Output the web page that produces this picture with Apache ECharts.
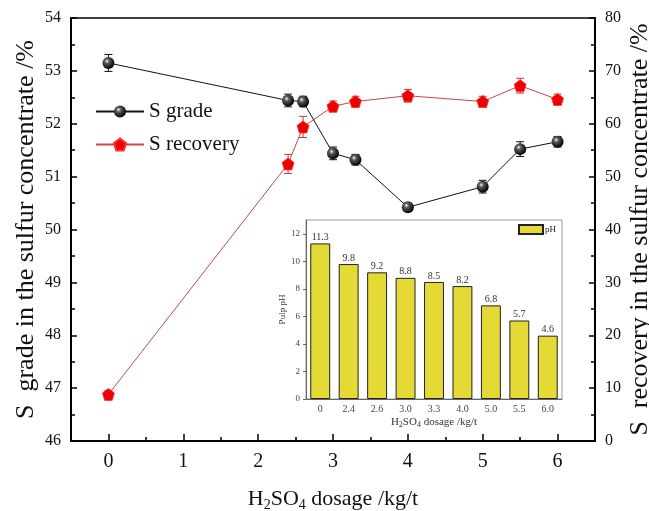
<!DOCTYPE html>
<html>
<head>
<meta charset="utf-8">
<script src="https://cdn.jsdelivr.net/npm/echarts@6/dist/echarts.min.js"></script>
<style>html,body{margin:0;padding:0;background:#fff}#c{width:649px;height:511px}</style>
</head>
<body>
<div id="c"></div>
<script>
// ---- data ----
var dosage = [0, 2.4, 2.6, 3.0, 3.3, 4.0, 5.0, 5.5, 6.0];
var grade = [53.15, 52.44, 52.42, 51.44, 51.32, 50.42, 50.81, 51.52, 51.66];
var gradeErr = [0.16, 0.12, 0.1, 0.12, 0.1, 0.08, 0.12, 0.14, 0.1];
var recovery = [8.8, 52.4, 59.4, 63.3, 64.2, 65.3, 64.2, 67.2, 64.6];
var recoveryErr = [0.8, 1.8, 2.0, 1.0, 1.0, 1.2, 1.0, 1.4, 1.0];
var xMajorTicks = [0, 1, 2, 3, 4, 5, 6];
var xMinorTicks = [0.5, 1.5, 2.5, 3.5, 4.5, 5.5];
var pHCategories = ['0', '2.4', '2.6', '3.0', '3.3', '4.0', '5.0', '5.5', '6.0'];
var pH = [11.3, 9.8, 9.2, 8.8, 8.5, 8.2, 6.8, 5.7, 4.6];

var FONT = "'Times New Roman','Liberation Serif',serif";
var chart = echarts.init(document.getElementById('c'), null, {renderer: 'canvas'});

function pairs(xs, ys) { return xs.map(function (x, i) { return [x, ys[i]]; }); }
function errData(xs, ys, es) { return xs.map(function (x, i) { return [x, ys[i] - es[i], ys[i] + es[i]]; }); }
function errRender(color) {
  return function (params, api) {
    var lo = api.coord([api.value(0), api.value(1)]);
    var hi = api.coord([api.value(0), api.value(2)]);
    var w = 4;
    var st = {stroke: color, lineWidth: 1};
    return {type: 'group', children: [
      {type: 'line', shape: {x1: lo[0], y1: lo[1], x2: hi[0], y2: hi[1]}, style: st},
      {type: 'line', shape: {x1: lo[0] - w, y1: lo[1], x2: lo[0] + w, y2: lo[1]}, style: st},
      {type: 'line', shape: {x1: hi[0] - w, y1: hi[1], x2: hi[0] + w, y2: hi[1]}, style: st}
    ]};
  };
}

var sphere = {
  type: 'radial', x: 0.38, y: 0.35, r: 0.65,
  colorStops: [{offset: 0, color: '#f4f4f4'}, {offset: 0.3, color: '#5a5a5a'}, {offset: 1, color: '#000'}]
};
var pentagon = 'path://M0,-10 L9.51,-3.09 L5.88,8.09 L-5.88,8.09 L-9.51,-3.09 Z';

var option = {
  backgroundColor: '#fff',
  animation: false,
  textStyle: {fontFamily: FONT},
  grid: [
    {left: 71, right: 54, top: 18, bottom: 70, show: true, borderColor: '#000', borderWidth: 1.5, backgroundColor: 'transparent',
      containLabel: false, outerBoundsMode: 'none'},
    {left: 306, top: 220, width: 256, height: 179, show: true, borderColor: '#999', borderWidth: 1, backgroundColor: '#fff', z: 5,
      containLabel: false, outerBoundsMode: 'none'}
  ],
  legend: [
    {
      data: ['S grade', 'S recovery'], orient: 'vertical', left: 95, top: 101, padding: 0,
      itemWidth: 48, itemHeight: 15, itemGap: 12,
      textStyle: {fontFamily: FONT, fontSize: 21, color: '#111'},
      selectedMode: false
    },
    {
      data: ['pH'], left: 518, top: 224, padding: 0, itemWidth: 24, itemHeight: 9, icon: 'rect', z: 10,
      itemGap: 2,
      textStyle: {fontFamily: FONT, fontSize: 9, color: '#222', padding: [0, 0, 0, -3]},
      selectedMode: false
    }
  ],
  xAxis: [
    {
      type: 'value', gridIndex: 0, min: -0.5, max: 6.5, interval: 0.5,
      name: 'H{sub|2}SO{sub|4} dosage /kg/t', nameLocation: 'middle', nameGap: 45, nameMoveOverlap: false,
      nameTextStyle: {fontFamily: FONT, fontSize: 22, color: '#111', lineHeight: 26,
        rich: {sub: {fontFamily: FONT, fontSize: 14, lineHeight: 14, verticalAlign: 'bottom', color: '#111'}}},
      axisLine: {show: true, onZero: false, lineStyle: {color: '#000', width: 2}},
      axisTick: {show: true, inside: true, length: 7, lineStyle: {color: '#000', width: 1.5}, customValues: xMajorTicks},
      axisLabel: {show: true, fontFamily: FONT, fontSize: 20, color: '#111', margin: 11, customValues: xMajorTicks},
      splitLine: {show: false}
    },
    {
      type: 'value', gridIndex: 0, min: -0.5, max: 6.5, interval: 0.5, position: 'bottom',
      axisLine: {show: false, onZero: false},
      axisTick: {show: true, inside: true, length: 4, lineStyle: {color: '#000', width: 1.5}, customValues: xMinorTicks},
      axisLabel: {show: false},
      splitLine: {show: false}
    },
    {
      type: 'category', gridIndex: 1, data: pHCategories,
      name: 'H{sub|2}SO{sub|4} dosage /kg/t', nameLocation: 'middle', nameGap: 17,
      nameTextStyle: {fontFamily: FONT, fontSize: 11, color: '#333', lineHeight: 13,
        rich: {sub: {fontFamily: FONT, fontSize: 8, lineHeight: 8, verticalAlign: 'bottom', color: '#333'}}},
      axisLine: {show: true, onZero: false, lineStyle: {color: '#666', width: 1}},
      axisTick: {show: false},
      axisLabel: {fontFamily: FONT, fontSize: 10, color: '#444', margin: 5},
      z: 6
    }
  ],
  yAxis: [
    {
      type: 'value', gridIndex: 0, min: 46, max: 54, interval: 1, position: 'left',
      name: 'S  grade in the sulfur concentrate /%', nameLocation: 'middle', nameGap: 32, nameRotate: 90,
      nameMoveOverlap: false,
      nameTextStyle: {fontFamily: FONT, fontSize: 26, color: '#111'},
      axisLine: {show: true, onZero: false, lineStyle: {color: '#000', width: 2}},
      axisTick: {show: true, inside: true, length: 6, lineStyle: {color: '#000', width: 1.5}},
      minorTick: {show: true, splitNumber: 2, length: 4, lineStyle: {color: '#000', width: 1.5}},
      axisLabel: {fontFamily: FONT, fontSize: 16, color: '#111', margin: 10},
      splitLine: {show: false}
    },
    {
      type: 'value', gridIndex: 0, min: 0, max: 80, interval: 10, position: 'right',
      name: 'S  recovery in the sulfur concentrate /%', nameLocation: 'middle', nameGap: 32, nameRotate: 90,
      nameMoveOverlap: false,
      nameTextStyle: {fontFamily: FONT, fontSize: 26, color: '#111'},
      axisLine: {show: true, onZero: false, lineStyle: {color: '#000', width: 2}},
      axisTick: {show: true, inside: true, length: 6, lineStyle: {color: '#000', width: 1.5}},
      minorTick: {show: true, splitNumber: 2, length: 4, lineStyle: {color: '#000', width: 1.5}},
      axisLabel: {fontFamily: FONT, fontSize: 16, color: '#111', margin: 10},
      splitLine: {show: false}
    },
    {
      type: 'value', gridIndex: 1, min: 0, max: 13, interval: 2,
      name: 'Pulp pH', nameLocation: 'middle', nameGap: 16, nameRotate: 90,
      nameTextStyle: {fontFamily: FONT, fontSize: 9, color: '#333'},
      axisLine: {show: true, onZero: false, lineStyle: {color: '#666', width: 1}},
      axisTick: {show: true, length: 3, lineStyle: {color: '#666'}},
      axisLabel: {fontFamily: FONT, fontSize: 9, color: '#444', margin: 6, showMaxLabel: false},
      splitLine: {show: false},
      z: 6
    }
  ],
  series: [
    {
      type: 'custom', name: 'gradeErr', xAxisIndex: 0, yAxisIndex: 0, z: 2,
      renderItem: errRender('#111'), data: errData(dosage, grade, gradeErr), silent: true
    },
    {
      type: 'custom', name: 'recErr', xAxisIndex: 0, yAxisIndex: 1, z: 2,
      renderItem: errRender('#c23a3a'), data: errData(dosage, recovery, recoveryErr), silent: true
    },
    {
      type: 'line', name: 'S grade', xAxisIndex: 0, yAxisIndex: 0, z: 4,
      data: pairs(dosage, grade),
      lineStyle: {color: '#111', width: 1},
      symbol: 'circle', symbolSize: 12,
      itemStyle: {color: sphere, borderWidth: 0},
      emphasis: {disabled: true}
    },
    {
      type: 'line', name: 'S recovery', xAxisIndex: 0, yAxisIndex: 1, z: 3,
      data: pairs(dosage, recovery),
      lineStyle: {color: '#c84848', width: 1},
      symbol: pentagon, symbolSize: 12,
      itemStyle: {color: '#ee0000', borderColor: '#ff3030', borderWidth: 0.8},
      emphasis: {disabled: true}
    },
    {
      type: 'bar', name: 'pH', xAxisIndex: 2, yAxisIndex: 2, z: 7,
      data: pH, barWidth: '70%',
      itemStyle: {color: '#e5d935', borderColor: '#222', borderWidth: 1},
      label: {show: true, position: 'top', distance: 1, fontFamily: FONT, fontSize: 10, color: '#333'}
    }
  ]
};
chart.setOption(option);
</script>
</body>
</html>
